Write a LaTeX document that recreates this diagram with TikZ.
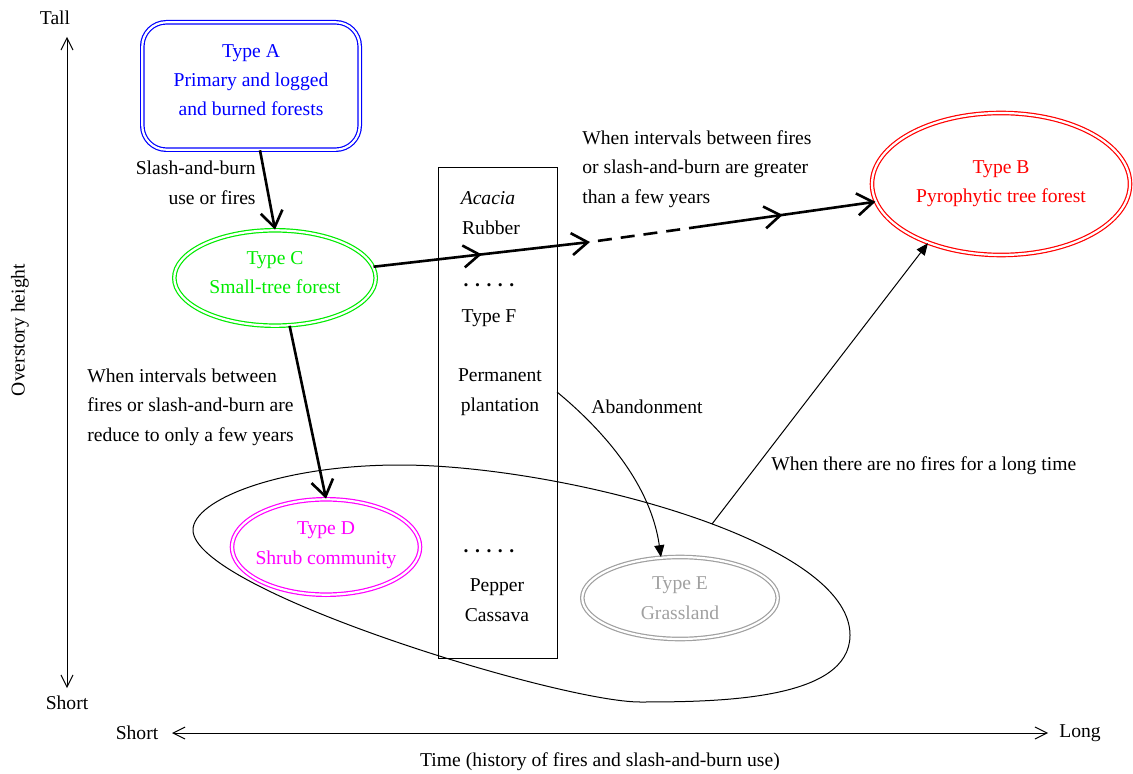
\documentclass[tikz,border=0pt]{standalone}
\usepackage{fontspec}
\setmainfont{Liberation Serif}
\usetikzlibrary{arrows.meta,shapes.geometric,decorations.markings}
\definecolor{forestGreen}{RGB}{0,235,0}
\definecolor{grassGray}{RGB}{160,160,160}
\definecolor{shrubMagenta}{RGB}{255,0,255}
\definecolor{pyroRed}{RGB}{255,0,0}
\definecolor{primaryBlue}{RGB}{0,0,255}
\tikzstyle{stateNode}=[draw,ellipse,double,line width=0.6pt,double distance=1.1pt,inner sep=0pt,inner xsep=-6pt,align=center]
\tikzstyle{startNode}=[draw,rectangle,rounded corners=12pt,double,line width=0.6pt,double distance=1.1pt,align=center]
\tikzstyle{cropBox}=[draw,rectangle,line width=0.5pt]
\tikzstyle{plainText}=[inner sep=0pt,align=center]
\tikzstyle{stateTransition}=[-{Straight Barb[length=8pt,width=11pt]}, line width=1.3pt]
\tikzstyle{midTransition}=[postaction={decorate},decoration={markings,mark=at position 0.5 with {\arrow{Straight Barb[length=8pt,width=11pt]}}}]
\tikzstyle{thinTransition}=[-{Triangle[length=6pt,width=5pt]}, line width=0.5pt]
\tikzstyle{axisLine}=[{Straight Barb[length=6pt,width=6pt]}-{Straight Barb[length=6pt,width=6pt]}, line width=0.5pt]

\begin{document}
\begin{tikzpicture}[x=0.5pt,y=-0.5pt,every node/.style={font=\fontsize{9.8}{14.7}\selectfont}]
	\useasboundingbox (0,0) rectangle (1133,774);

	\node[startNode, primaryBlue, minimum width=108.7pt, minimum height=63.7pt, text depth=6pt] (typeA) at (251,86) {Type A\\Primary and logged\\and burned forests};
	\node[stateNode, pyroRed, minimum width=129pt, minimum height=71pt] (typeB) at (1001,184) {Type B\\Pyrophytic tree forest};
	\node[stateNode, forestGreen, minimum width=100.7pt, minimum height=47.7pt, text depth=5.5pt] (typeC) at (275,278) {Type C\\Small-tree forest};
	\node[stateNode, shrubMagenta, minimum width=94pt, minimum height=47.7pt, text depth=4pt] (typeD) at (326,547) {Type D\\Shrub community};
	\node[stateNode, grassGray, minimum width=97.7pt, minimum height=41pt] (typeE) at (680,598) {Type E\\Grassland};

	\node[cropBox, minimum width=59.5pt, minimum height=245pt] (plantBox) at (497.5,413) {};
	\node[plainText] (acaciaTxt) at (488,198) {\textit{Acacia}};
	\node[plainText] (rubberTxt) at (491,228) {Rubber};
	\node[plainText] (dotsTop) at (489,285) {\textbf{. . . . .}};
	\node[plainText] (typeFTxt) at (489,318) {Type F};
	\node[plainText] (permTxt) at (500,392) {Permanent\\plantation};
	\node[plainText] (dotsBot) at (489,551) {\textbf{. . . . .}};
	\node[plainText] (cropTxt) at (497,600) {Pepper\\Cassava};

	\draw[line width=0.5pt] (193,530) .. controls (193,500) and (280,465) .. (400,465) .. controls (560,465) and (850,540) .. (850,635) .. controls (850,700) and (720,702) .. (640,702) .. controls (560,702) and (193,590) .. cycle;

	\coordinate (p1) at (590,242);
	\coordinate (p2) at (690,228);
	\coordinate (abStart) at (557,392);
	\coordinate (noFire) at (712,524);

	\draw[stateTransition] ([xshift=4.5pt]typeA.south) -- (typeC.north);
	\draw[stateTransition] (typeC.-73) -- (typeD.north);
	\draw[stateTransition, midTransition] (typeC) -- (p1);
	\draw[line width=1.3pt, dash pattern=on 7pt off 4.5pt, shorten <=4pt] (p1) -- (p2);
	\draw[stateTransition, midTransition] (p2) -- (typeB);
	\draw[thinTransition] (abStart) .. controls (597,425) and (650,480) .. (typeE.115);
	\draw[thinTransition] (noFire) -- (typeB.219);

	\node[plainText, anchor=east, align=right] (slashLbl) at (256,183) {Slash-and-burn\\use or fires};
	\node[plainText, anchor=west, align=left] (reduceLbl) at (87,407) {When intervals between\\fires or slash-and-burn are\\reduce to only a few years};
	\node[plainText, anchor=west, align=left] (greaterLbl) at (582,169) {When intervals between fires\\or slash-and-burn are greater\\than a few years};
	\node[plainText] (abandonLbl) at (647,407) {Abandonment};
	\node[plainText, anchor=west] (noFireLbl) at (771,466) {When there are no fires for a long time};

	\coordinate (yTop) at (67,37);
	\coordinate (yBot) at (67,688);
	\coordinate (xLeft) at (172,733);
	\coordinate (xRight) at (1048,733);
	\draw[axisLine] (yTop) -- (yBot);
	\draw[axisLine] (xLeft) -- (xRight);
	\node[plainText] (tallLbl) at (55,18) {Tall};
	\node[plainText] (shortYLbl) at (67,703) {Short};
	\node[plainText, rotate=90] (heightLbl) at (20,330) {Overstory height};
	\node[plainText] (shortXLbl) at (137,733) {Short};
	\node[plainText] (longXLbl) at (1080,733) {Long};
	\node[plainText] (timeLbl) at (600,762) {Time (history of fires and slash-and-burn use)};
\end{tikzpicture}
\end{document}
